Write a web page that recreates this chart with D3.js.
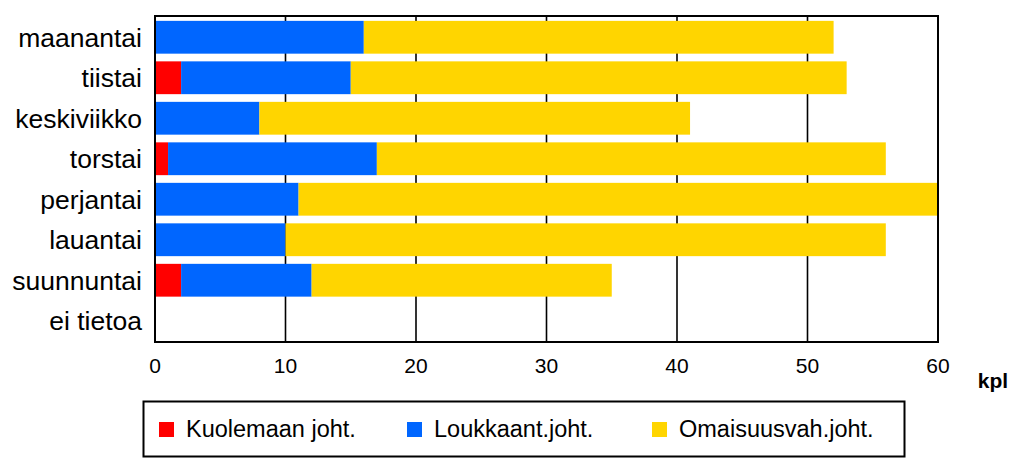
<!DOCTYPE html>
<html><head><meta charset="utf-8">
<script src="https://cdn.jsdelivr.net/npm/d3@7"></script>
<style>body{margin:0;background:#fff;} svg{display:block;font-family:"Liberation Sans",Arial,sans-serif;}</style>
</head><body><svg id="c" width="1024" height="472"></svg>
<script>
const categories = ["maanantai","tiistai","keskiviikko","torstai","perjantai","lauantai","suunnuntai","ei tietoa"];
const seriesNames = ["Kuolemaan joht.","Loukkaant.joht.","Omaisuusvah.joht."];
const kuolemaan = [0,2,0,1,0,0,2,0];
const loukkaant = [16,13,8,16,11,10,10,0];
const omaisuus  = [36,38,33,39,49,46,23,0];
const xTicks = [0,10,20,30,40,50,60];
const colors = ["#ff0000","#0066ff","#ffd500"];
const axisUnit = "kpl";

const svg = d3.select("#c");
const L=155, R=938, T=16, B=342;
const x = d3.scaleLinear().domain([0,60]).range([L,R]);
const y = d3.scaleBand().domain(categories).range([T,B]).paddingInner(0.19).paddingOuter(0.12);

const rows = categories.map((c,i)=>({cat:c, s0:kuolemaan[i], s1:loukkaant[i], s2:omaisuus[i]}));
const stack = d3.stack().keys(["s0","s1","s2"])(rows);

// gridlines
svg.append("g").selectAll("line").data(xTicks.slice(1,-1)).join("line")
  .attr("x1",d=>x(d)).attr("x2",d=>x(d)).attr("y1",T).attr("y2",B)
  .attr("stroke","#000").attr("stroke-width",1.6);

// bars
svg.append("g").selectAll("g").data(stack).join("g")
  .attr("fill",(d,i)=>colors[i])
  .selectAll("rect").data(d=>d).join("rect")
  .attr("x",d=>x(d[0])).attr("width",d=>x(d[1])-x(d[0]))
  .attr("y",d=>y(d.data.cat)).attr("height",y.bandwidth());

// frame
svg.append("rect").attr("x",L).attr("y",T).attr("width",R-L).attr("height",B-T)
  .attr("fill","none").attr("stroke","#000").attr("stroke-width",2);

// category labels
svg.append("g").selectAll("text").data(categories).join("text")
  .attr("x",142).attr("y",d=>y(d)+y.bandwidth()/2).attr("dy","0.35em")
  .attr("text-anchor","end").attr("font-size",26.5).attr("fill","#000").text(d=>d);

// tick labels
svg.append("g").selectAll("text").data(xTicks).join("text")
  .attr("x",d=>x(d)).attr("y",373).attr("text-anchor","middle")
  .attr("font-size",21).attr("fill","#000").text(d=>d);

svg.append("text").attr("x",993).attr("y",388).attr("text-anchor","middle")
  .attr("font-size",21).attr("font-weight","bold").text(axisUnit);

// legend
svg.append("rect").attr("x",143.5).attr("y",401.5).attr("width",761).attr("height",55)
  .attr("fill","#fff").attr("stroke","#000").attr("stroke-width",2);
const lx = [159,407,652];
const lg = svg.append("g").selectAll("g").data(seriesNames).join("g")
  .attr("transform",(d,i)=>`translate(${lx[i]},0)`);
lg.append("rect").attr("x",0).attr("y",422).attr("width",15).attr("height",15).attr("fill",(d,i)=>colors[i]);
lg.append("text").attr("x",27).attr("y",437).attr("font-size",23.5).attr("fill","#000").text(d=>d);
</script></body></html>
